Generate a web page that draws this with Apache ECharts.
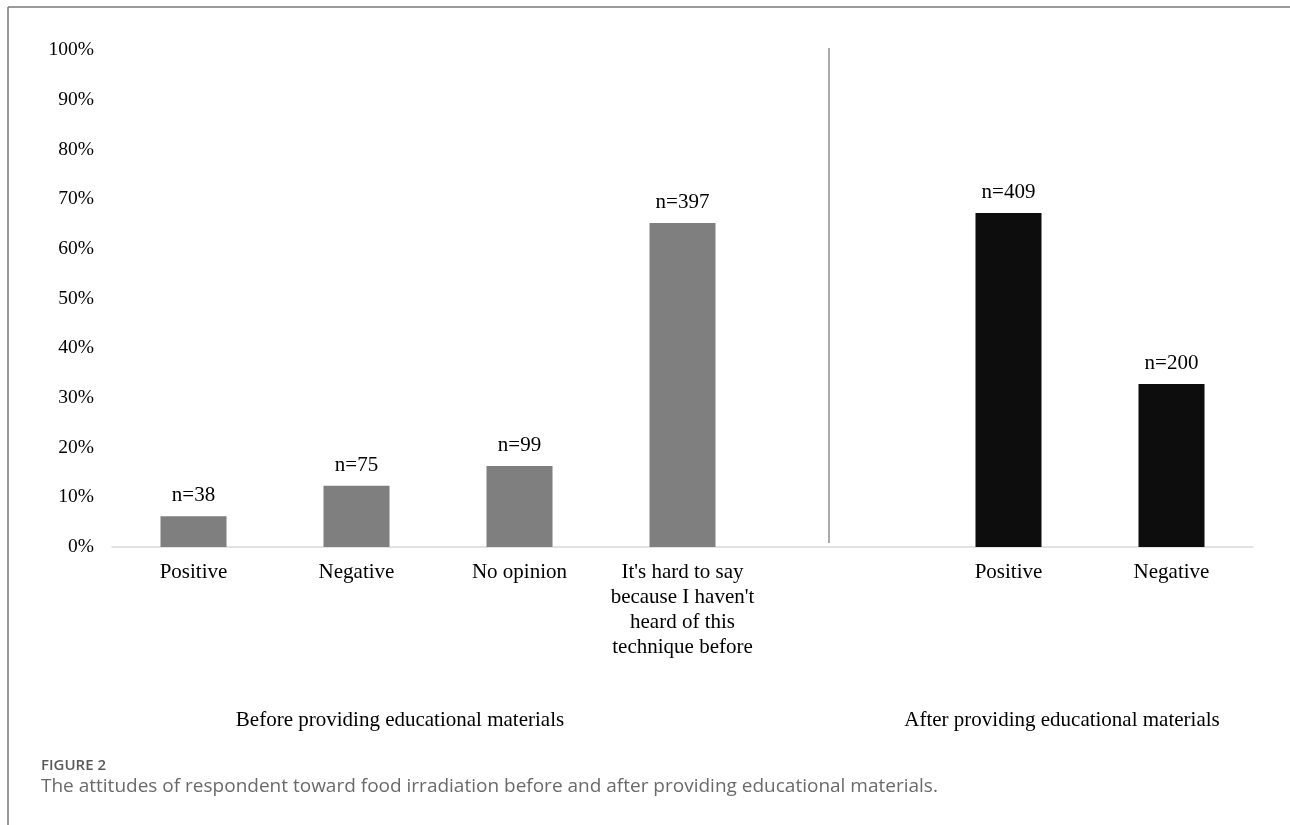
<!DOCTYPE html>
<html>
<head>
<meta charset="utf-8">
<script src="https://cdn.jsdelivr.net/npm/echarts@6/dist/echarts.min.js"></script>
<style>
  html, body { margin: 0; padding: 0; background: #fff; }
  #chart { width: 1290px; height: 825px; }
</style>
</head>
<body>
<div id="chart"></div>
<script>
// Categories on the x axis; the empty slot separates the two survey stages
const categories = [
  'Positive',
  'Negative',
  'No opinion',
  "It's hard to say\nbecause I haven't\nheard of this\ntechnique before",
  '',
  'Positive',
  'Negative'
];
// Share of respondents (%) and respondent counts for each category
const percents = [6.2, 12.3, 16.3, 65.2, null, 67.2, 32.8];
const counts = [38, 75, 99, 397, null, 409, 200];
// Stage of each category: 0 = before, 1 = after
const stage = [0, 0, 0, 0, null, 1, 1];
const stageColors = ['#7f7f7f', '#0d0d0d'];
const stageTitles = ['Before providing educational materials', 'After providing educational materials'];
const yTicks = [0, 10, 20, 30, 40, 50, 60, 70, 80, 90, 100];

const serif = '"Liberation Serif", "Times New Roman", serif';
const sans = '"Open Sans", "Noto Sans", sans-serif';

const chart = echarts.init(document.getElementById('chart'), null, { renderer: 'canvas' });

const barData = percents.map((v, i) => ({
  value: v === null ? '-' : v,
  itemStyle: { color: stage[i] === null ? 'transparent' : stageColors[stage[i]] },
  label: { formatter: counts[i] === null ? '' : 'n=' + counts[i] }
}));

chart.setOption({
  animation: false,
  backgroundColor: '#ffffff',
  grid: { left: 112, right: 37, top: 50, bottom: 278, containLabel: false },
  xAxis: {
    type: 'category',
    data: categories,
    axisLine: { show: true, lineStyle: { color: '#d9d9d9', width: 1.5 } },
    axisTick: { show: false },
    axisLabel: {
      interval: 0,
      margin: 13,
      color: '#000',
      fontFamily: serif,
      fontSize: 21,
      lineHeight: 25,
      align: 'center'
    }
  },
  yAxis: {
    type: 'value',
    min: yTicks[0],
    max: yTicks[yTicks.length - 1],
    interval: 10,
    splitLine: { show: false },
    axisLine: { show: false },
    axisTick: { show: false },
    axisLabel: {
      margin: 18,
      color: '#000',
      fontFamily: serif,
      fontSize: 19.5,
      formatter: '{value}%'
    }
  },
  series: [{
    type: 'bar',
    data: barData,
    barWidth: 66,
    label: {
      show: true,
      position: 'top',
      distance: 10,
      color: '#000',
      fontFamily: serif,
      fontSize: 21
    }
  }],
  graphic: [
    // outer frame (top and left edges)
    { type: 'line', shape: { x1: 8, y1: 7, x2: 1290, y2: 7 }, style: { stroke: '#7a7a7a', lineWidth: 1.5 } },
    { type: 'line', shape: { x1: 8, y1: 7, x2: 8, y2: 825 }, style: { stroke: '#7a7a7a', lineWidth: 1.5 } },
    // divider between the two stages
    { type: 'line', shape: { x1: 829, y1: 48, x2: 829, y2: 543 }, style: { stroke: '#595959', lineWidth: 1 } },
    // stage titles
    { type: 'text', x: 400, y: 720, style: { text: stageTitles[0], fill: '#000', font: '21px ' + serif, textAlign: 'center', textVerticalAlign: 'middle' } },
    { type: 'text', x: 1062, y: 720, style: { text: stageTitles[1], fill: '#000', font: '21px ' + serif, textAlign: 'center', textVerticalAlign: 'middle' } },
    // figure caption
    { type: 'text', x: 41, y: 766, style: { text: 'FIGURE 2', fill: '#5a5a5a', font: '600 15px ' + sans, textAlign: 'left', textVerticalAlign: 'middle' } },
    { type: 'text', x: 41, y: 787, style: { text: 'The attitudes of respondent toward food irradiation before and after providing educational materials.', fill: '#6a6a6a', font: '19px ' + sans, textAlign: 'left', textVerticalAlign: 'middle' } }
  ]
});
</script>
</body>
</html>
